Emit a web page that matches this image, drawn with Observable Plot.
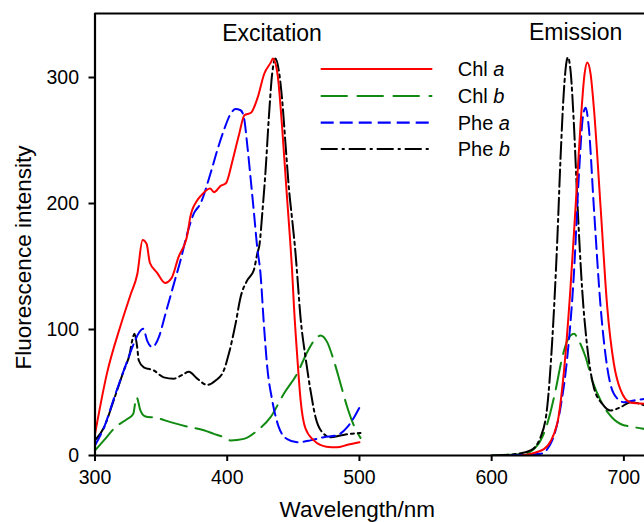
<!DOCTYPE html>
<html>
<head>
<meta charset="utf-8">
<script src="https://cdn.jsdelivr.net/npm/d3@7"></script>
<script src="https://cdn.jsdelivr.net/npm/@observablehq/plot@0.6"></script>
<style>
  html, body { margin: 0; padding: 0; background: #fff; }
  #chart { width: 644px; height: 522px; overflow: hidden; }
</style>
</head>
<body>
<div id="chart"></div>
<script>
// ---- Data (wavelength nm, fluorescence intensity) ----
const seriesNames = ["Chl a", "Chl b", "Phe a", "Phe b"];
const xTicks = [300, 400, 500, 600, 700];
const yTicks = [0, 100, 200, 300];
const regionLabels = [["Excitation", 433.9, 335], ["Emission", 663.5, 335.7]];

const chlA_ex = [[300,17],[309,65],[319,102],[327,128],[332,144],[336,171],[339,168],[341.5,153],[347,145],[353,137],[358,141],[363,157],[370,176],[372,189],[377,202],[380,206],[387,212],[390,209],[395,214],[399,216],[404,234],[409,255],[413,270],[418,272],[423,284],[428,303],[433,312],[434.5,315],[438,303],[441.5,261],[445,208],[447.5,172],[449,148],[450.5,118],[453,78],[455.5,44],[459,22],[465.5,12],[475,7],[483,6.5],[491,8.5],[500,10.5]];
const chlA_em = [[623,0],[629,1.3],[639.5,5],[649.5,25],[654.5,65],[659.5,131],[663.5,198],[667.3,264],[670.3,303],[672.3,312],[674.8,303],[677.3,276],[682.4,197],[687.4,118],[692.4,73],[697.5,52],[705,42],[716,41]];

const chlB_ex = [[300,4],[306.7,12],[315.5,22.5],[324.4,29],[328.9,33],[331.4,46.3],[334.4,35.7],[338.2,31],[345.8,30],[357.1,26.5],[369.7,23],[382.3,20],[389.9,17.2],[397.4,14.5],[402.5,12],[412.6,13.2],[422.7,19.8],[432.8,30.4],[442.8,49],[452.9,65],[460.5,82],[466.8,92.6],[470.6,95.2],[475.6,90],[480.6,75.4],[485.7,57],[490.8,38.3],[495.8,23.8],[500.8,14]];
const chlB_em = [[600,0],[624.4,1.3],[634.5,8],[642,25],[648.3,51.6],[653.4,78],[657.2,91],[662.2,96.6],[666,91],[671.1,78],[676.1,59.5],[682.4,43.7],[688.7,33],[697.5,25],[707.6,22.5],[716,21]];

const pheA_ex = [[300,8],[306.7,22],[315.5,49],[324.4,75],[329.4,89],[333,97],[336.5,100.5],[339.5,91],[343.3,86],[348.3,94],[353.3,112.5],[359.6,136],[364.7,155],[369.7,176],[374.7,192],[379.8,200],[387.4,224],[392.4,242],[397.4,258],[402.5,271],[406.3,275],[410.1,274],[412.6,268.5],[415.1,247],[417.6,221],[420.1,194],[422.7,165],[425.2,144],[427.7,104.5],[430.3,70],[434,44],[439,22.5],[445.4,13],[452.9,10.5],[463,12],[473,14.5],[483,16],[490.8,22.5],[495.8,30],[500.8,39.6]];
const pheA_em = [[614,0],[637,1.3],[645.8,12],[652.1,38.3],[657.2,78],[662.2,144],[666,223],[669.3,271],[671.1,276],[673.5,260],[677.3,197],[682.4,118],[687.4,70],[692.4,49],[700,42.3],[707.6,43.7],[716,45]];

const pheB_ex = [[300,12],[306.7,22],[314.2,44],[321.8,67.5],[326.3,81],[328.1,91],[329.9,96.6],[331.9,86],[333.1,75.4],[336.9,70],[344.5,67.5],[352,62],[359.6,61],[366,64],[371,66.4],[377.3,61],[384.9,56],[391.2,59.5],[397.4,67.5],[401.2,80.7],[406.3,104.5],[410.1,125.6],[415.1,139],[420.1,147],[422.7,160],[424.5,168],[426.5,192],[429,226],[431.5,268.5],[434,303],[436.5,315],[439,305.6],[441.6,281.7],[444.1,247],[446.6,212.8],[449.2,186.4],[451.7,160],[452.9,144],[455.4,110],[459.2,78],[463,51.6],[466.8,30.4],[471.8,18.5],[478.1,14.5],[485.7,15.9],[493.3,17.2],[500.8,17.8]];
const pheB_em = [[600,0],[619.4,1.3],[629.4,4],[637,14.5],[642,38.3],[645.8,91],[649.6,170],[652.1,236],[654.6,289],[656.7,313],[657.7,316],[659.7,305],[662.2,263],[664.8,202],[668.5,131],[672.3,86],[677.3,54],[683.7,41],[689.9,35.7],[697.5,38.3],[705,42.3],[716,39.7]];

// ---- Styles ----
const styles = {
  "Chl a": {stroke: "#ff0000", dash: null},
  "Chl b": {stroke: "#118a11", dash: "27,9"},
  "Phe a": {stroke: "#0000ff", dash: "13,6"},
  "Phe b": {stroke: "#000000", dash: "17,4,3,4"}
};
const seriesData = {
  "Chl a": [chlA_ex, chlA_em],
  "Chl b": [chlB_ex, chlB_em],
  "Phe a": [pheA_ex, pheA_em],
  "Phe b": [pheB_ex, pheB_em]
};

const rows = [];
for (const name of seriesNames) {
  seriesData[name].forEach((seg, i) => {
    seg.forEach(([nm, v]) => rows.push({name, seg: name + i, nm, v}));
  });
}

const font = "'Liberation Sans', Arial, Helvetica, sans-serif";
const yTop = 350.8;

const lineMarks = ["Chl b", "Phe b", "Phe a", "Chl a"].map(name =>
  Plot.line(rows.filter(d => d.name === name), {
    x: "nm", y: "v", z: "seg",
    stroke: styles[name].stroke,
    strokeWidth: 2,
    strokeDasharray: styles[name].dash,
    curve: "monotone-x",
    clip: true
  })
);

const chart = Plot.plot({
  width: 644,
  height: 522,
  marginLeft: 94.5,
  marginRight: 0,
  marginTop: 13,
  marginBottom: 67,
  style: {fontFamily: font, fontSize: "19px", color: "#000", background: "#fff"},
  x: {domain: [300, 715.6]},
  y: {domain: [0, yTop]},
  marks: [
    ...lineMarks,
    Plot.ruleY([0], {stroke: "#000", strokeWidth: 2.2}),
    Plot.ruleY([yTop], {stroke: "#000", strokeWidth: 2.2}),
    Plot.ruleX([300], {stroke: "#000", strokeWidth: 2.2}),
    Plot.axisX({ticks: xTicks, tickSize: 6, tickPadding: 9, strokeWidth: 2, label: null, fontSize: 19.5}),
    Plot.axisY({ticks: yTicks, tickSize: 6, tickPadding: 10, strokeWidth: 2, label: null, fontSize: 19.5}),
    Plot.text(regionLabels, {x: d => d[1], y: d => d[2], text: d => d[0], fontSize: 23, fill: "#000"}),
    Plot.text(["Wavelength/nm"], {frameAnchor: "bottom", dx: -12.5, dy: 61, fontSize: 22.5, fill: "#000"}),
    Plot.text(["Fluorescence intensity"], {frameAnchor: "left", textAnchor: "middle", dx: -71, dy: 23, rotate: -90, fontSize: 22.5, fill: "#000"})
  ]
});

// ---- Legend ----
const svg = d3.select(chart);
const legendY = [69, 96, 122.7, 149];
const lg = svg.append("g").attr("font-family", font).attr("font-size", 20).attr("text-anchor", "start");
seriesNames.forEach((name, i) => {
  lg.append("line")
    .attr("x1", 320.7).attr("x2", 432.3)
    .attr("y1", legendY[i]).attr("y2", legendY[i])
    .attr("stroke", styles[name].stroke)
    .attr("stroke-width", 2.2)
    .attr("stroke-dasharray", styles[name].dash);
  const [prefix, suffix] = name.split(" ");
  const t = lg.append("text")
    .attr("x", 457.7).attr("y", legendY[i])
    .attr("dy", "0.35em").attr("fill", "#000").attr("text-anchor", "start");
  t.append("tspan").text(prefix + " ");
  t.append("tspan").attr("font-style", "italic").text(suffix);
});

document.getElementById("chart").appendChild(chart);
</script>
</body>
</html>
